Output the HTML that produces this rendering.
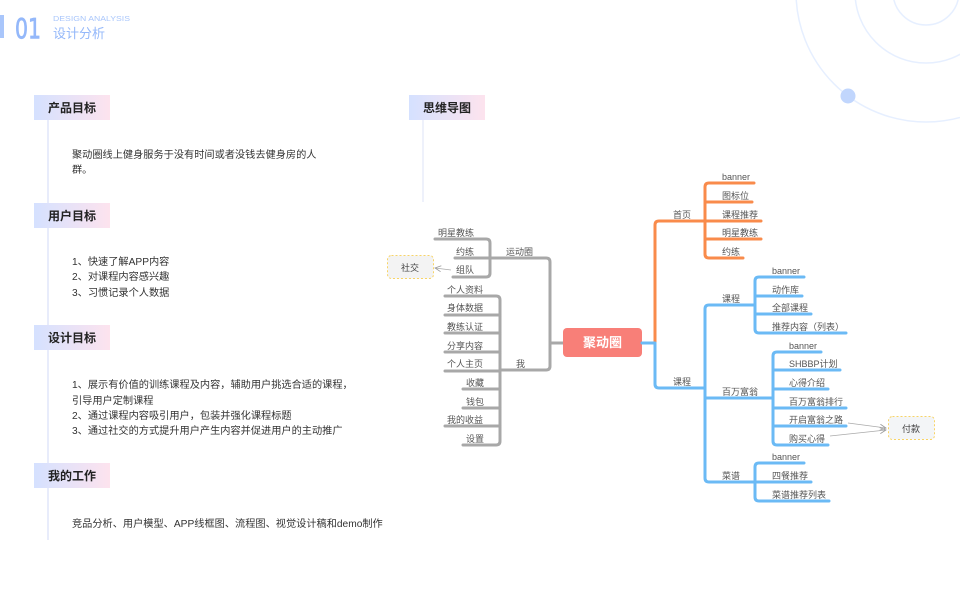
<!DOCTYPE html>
<html><head><meta charset="utf-8"><style>
body{margin:0;background:#fff;}
svg{display:block;font-family:"Liberation Sans","Noto Sans CJK SC",sans-serif;}
</style></head><body>
<svg width="960" height="600" viewBox="0 0 960 600" xmlns="http://www.w3.org/2000/svg">
<defs>
<linearGradient id="hg" x1="0" x2="1" y1="0" y2="0"><stop offset="0" stop-color="#d5e1ff"/><stop offset="1" stop-color="#fde3ee"/></linearGradient>
<marker id="ar" markerWidth="8" markerHeight="8" refX="7" refY="4" orient="auto" markerUnits="userSpaceOnUse"><path d="M1,1 L7,4 L1,7" fill="none" stroke="#999" stroke-width="0.8"/></marker>
</defs>
<g fill="none" stroke="#e6efff" stroke-width="1.5">
<circle cx="926" cy="-8" r="130"/><circle cx="926" cy="-8" r="71"/><circle cx="926" cy="-8" r="33"/>
</g>
<circle cx="848" cy="96" r="7.5" fill="#c1d6fd"/>
<rect x="0" y="15" width="4" height="23" fill="#a9c6fb"/>
<text x="15" y="38" font-size="28" fill="#94b8fa" stroke="#94b8fa" stroke-width="0.8" font-family="DejaVu Sans, sans-serif" textLength="26" lengthAdjust="spacingAndGlyphs">01</text>
<text x="53" y="21" font-size="7.5" fill="#a9c6fb" textLength="77" lengthAdjust="spacingAndGlyphs">DESIGN ANALYSIS</text>
<text x="53" y="38" font-size="13" fill="#94b8fa">设计分析</text>
<rect x="47" y="120" width="2" height="420" fill="#e8ecfb"/>
<g font-size="12" font-weight="bold" fill="#222">
<rect x="34" y="95" width="76" height="25" fill="url(#hg)"/><text x="48" y="112">产品目标</text>
<rect x="34" y="203" width="76" height="25" fill="url(#hg)"/><text x="48" y="220">用户目标</text>
<rect x="34" y="325" width="76" height="25" fill="url(#hg)"/><text x="48" y="342">设计目标</text>
<rect x="34" y="463" width="76" height="25" fill="url(#hg)"/><text x="48" y="480">我的工作</text>
<rect x="409" y="95" width="76" height="25" fill="url(#hg)"/><text x="423" y="112">思维导图</text>
</g>
<rect x="422" y="120" width="2" height="82" fill="#eef1fb"/>
<g font-size="10.2" fill="#333">
<text x="72" y="158">聚动圈线上健身服务于没有时间或者没钱去健身房的人</text>
<text x="72" y="173">群。</text>
<text x="72" y="265">1、快速了解APP内容</text>
<text x="72" y="280">2、对课程内容感兴趣</text>
<text x="72" y="296">3、习惯记录个人数据</text>
<text x="72" y="388">1、展示有价值的训练课程及内容，辅助用户挑选合适的课程，</text>
<text x="72" y="404">引导用户定制课程</text>
<text x="72" y="419">2、通过课程内容吸引用户，包装并强化课程标题</text>
<text x="72" y="434">3、通过社交的方式提升用户产生内容并促进用户的主动推广</text>
<text x="72" y="527">竞品分析、用户模型、APP线框图、流程图、视觉设计稿和demo制作</text>
</g>
<g fill="none" stroke="#a8a8a8" stroke-width="3" stroke-linecap="round" stroke-linejoin="round">
<path d="M563,343 H550 M550,343 V262 Q550,258 546,258 H490 M550,343 V366 Q550,370 546,370 H500"/>
<path d="M435,239 H486 Q490,239 490,243 V273 Q490,277 486,277 H453 M455,258 H490"/>
<path d="M445,296 H496 Q500,296 500,300 V441 Q500,445 496,445 H463"/>
<path d="M445,315 H500 M445,333 H500 M445,352 H500 M445,371 H500 M463,389 H500 M463,408 H500 M445,426 H500"/>
</g>
<g font-size="9" fill="#555">
<text x="506" y="255">运动圈</text><text x="516" y="367">我</text>
<text x="438" y="236">明星教练</text><text x="456" y="255">约练</text><text x="456" y="273">组队</text>
<text x="447" y="293">个人资料</text><text x="447" y="311">身体数据</text><text x="447" y="330">教练认证</text><text x="447" y="349">分享内容</text><text x="447" y="367">个人主页</text>
<text x="466" y="386">收藏</text><text x="466" y="405">钱包</text><text x="447" y="423">我的收益</text><text x="466" y="442">设置</text>
</g>
<rect x="387.5" y="255.5" width="46" height="23" rx="4" fill="#f3f3f3" stroke="#f8d466" stroke-dasharray="2,2"/>
<text x="410" y="271" font-size="9" fill="#444" text-anchor="middle">社交</text>
<line x1="451" y1="270" x2="435" y2="268" stroke="#aaa" stroke-width="0.8" marker-end="url(#ar)"/>
<rect x="563" y="328" width="79" height="29" rx="4" fill="#f87f78"/>
<text x="602.5" y="347" font-size="13" font-weight="bold" fill="#fff" text-anchor="middle">聚动圈</text>
<g fill="none" stroke="#f98b4b" stroke-width="3" stroke-linecap="round" stroke-linejoin="round">
<path d="M642,343 H655 V225 Q655,221 659,221 H705"/>
<path d="M754,183 H709 Q705,183 705,187 V254 Q705,258 709,258 H743 M705,202 H752 M705,221 H761 M705,239 H761"/>
</g>
<g fill="none" stroke="#6bbaf5" stroke-width="3" stroke-linecap="round" stroke-linejoin="round">
<path d="M642,343 H655 V384 Q655,388 659,388 H705"/>
<path d="M755,305 H709 Q705,305 705,309 V478 Q705,482 709,482 H755 M705,398 H772"/>
<path d="M804,277 H759 Q755,277 755,281 V329 Q755,333 759,333 H846 M755,296 H802 M755,314 H811"/>
<path d="M821,352 H777 Q773,352 773,356 V441 Q773,445 777,445 H828 M773,370 H840 M773,389 H828 M773,408 H846 M773,426 H846"/>
<path d="M804,463 H759 Q755,463 755,467 V497 Q755,501 759,501 H829 M755,482 H811"/>
</g>
<g font-size="9" fill="#555">
<text x="673" y="218">首页</text><text x="673" y="385">课程</text>
<text x="722" y="180">banner</text><text x="722" y="199">图标位</text><text x="722" y="218">课程推荐</text><text x="722" y="236">明星教练</text><text x="722" y="255">约练</text>
<text x="722" y="302">课程</text><text x="722" y="395">百万富翁</text><text x="722" y="479">菜谱</text>
<text x="772" y="274">banner</text><text x="772" y="293">动作库</text><text x="772" y="311">全部课程</text><text x="772" y="330">推荐内容（列表）</text>
<text x="789" y="349">banner</text><text x="789" y="367">SHBBP计划</text><text x="789" y="386">心得介绍</text><text x="789" y="405">百万富翁排行</text><text x="789" y="423">开启富翁之路</text><text x="789" y="442">购买心得</text>
<text x="772" y="460">banner</text><text x="772" y="479">四餐推荐</text><text x="772" y="498">菜谱推荐列表</text>
</g>
<rect x="888.5" y="416.5" width="46" height="23" rx="4" fill="#f3f5f7" stroke="#f8d466" stroke-dasharray="2,2"/>
<text x="911" y="432" font-size="9" fill="#444" text-anchor="middle">付款</text>
<line x1="848" y1="423" x2="886" y2="428" stroke="#aaa" stroke-width="0.8" marker-end="url(#ar)"/>
<line x1="830" y1="436" x2="886" y2="430" stroke="#aaa" stroke-width="0.8" marker-end="url(#ar)"/>
</svg>
</body></html>
